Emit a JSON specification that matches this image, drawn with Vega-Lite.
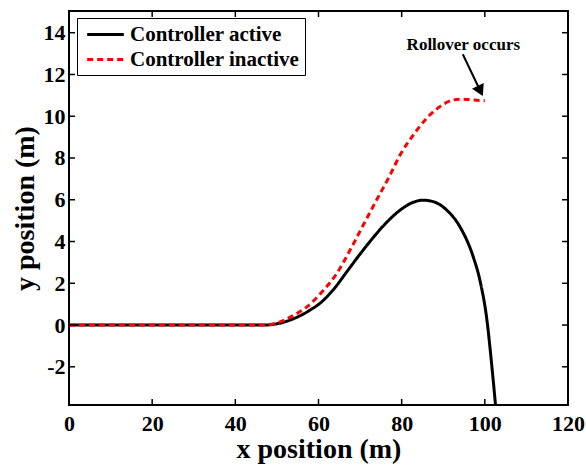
{
  "$schema": "https://vega.github.io/schema/vega-lite/v6.json",
  "width": 499,
  "height": 394,
  "autosize": {"type": "none"},
  "padding": {"left": 69, "top": 11, "right": 18, "bottom": 61},
  "background": "white",
  "datasets": {
    "paths": [
      {"series": "Controller active", "x": 0, "y": 0},
      {"series": "Controller active", "x": 47, "y": 0},
      {"series": "Controller active", "x": 50, "y": 0.06},
      {"series": "Controller active", "x": 53.2, "y": 0.24},
      {"series": "Controller active", "x": 58, "y": 0.72},
      {"series": "Controller active", "x": 60.4, "y": 1.05},
      {"series": "Controller active", "x": 63.6, "y": 1.7},
      {"series": "Controller active", "x": 66.8, "y": 2.55},
      {"series": "Controller active", "x": 70, "y": 3.4},
      {"series": "Controller active", "x": 73.2, "y": 4.2},
      {"series": "Controller active", "x": 76.4, "y": 4.92},
      {"series": "Controller active", "x": 79.6, "y": 5.5},
      {"series": "Controller active", "x": 82.8, "y": 5.88},
      {"series": "Controller active", "x": 85.1, "y": 5.98},
      {"series": "Controller active", "x": 87.6, "y": 5.91},
      {"series": "Controller active", "x": 90.8, "y": 5.51},
      {"series": "Controller active", "x": 94, "y": 4.71},
      {"series": "Controller active", "x": 97.2, "y": 3.27},
      {"series": "Controller active", "x": 98.8, "y": 2.16},
      {"series": "Controller active", "x": 100.5, "y": 0.24},
      {"series": "Controller active", "x": 101.7, "y": -2.0},
      {"series": "Controller active", "x": 102.6, "y": -3.9},
      {"series": "Controller inactive", "x": 0, "y": 0},
      {"series": "Controller inactive", "x": 47, "y": 0},
      {"series": "Controller inactive", "x": 50, "y": 0.1},
      {"series": "Controller inactive", "x": 53.2, "y": 0.38},
      {"series": "Controller inactive", "x": 57.2, "y": 0.87},
      {"series": "Controller inactive", "x": 61.2, "y": 1.67},
      {"series": "Controller inactive", "x": 64.4, "y": 2.47},
      {"series": "Controller inactive", "x": 67.6, "y": 3.59},
      {"series": "Controller inactive", "x": 70.8, "y": 4.8},
      {"series": "Controller inactive", "x": 74, "y": 6.0},
      {"series": "Controller inactive", "x": 77.2, "y": 7.18},
      {"series": "Controller inactive", "x": 79.6, "y": 8.14},
      {"series": "Controller inactive", "x": 82.8, "y": 9.1},
      {"series": "Controller inactive", "x": 86, "y": 9.9},
      {"series": "Controller inactive", "x": 89.2, "y": 10.46},
      {"series": "Controller inactive", "x": 92.4, "y": 10.78},
      {"series": "Controller inactive", "x": 94.4, "y": 10.82},
      {"series": "Controller inactive", "x": 97.2, "y": 10.78},
      {"series": "Controller inactive", "x": 100, "y": 10.74}
    ],
    "note": [{"label": "Rollover occurs", "x": 94.83, "y": 13.41}],
    "arrow": [{"x": 94.7, "y": 12.97, "x2": 98.92, "y2": 11.21}],
    "xticks": [{"v": 20}, {"v": 40}, {"v": 60}, {"v": 80}, {"v": 100}],
    "yticks": [{"v": -2}, {"v": 0}, {"v": 2}, {"v": 4}, {"v": 6}, {"v": 8}, {"v": 10}, {"v": 12}, {"v": 14}]
  },
  "layer": [
    {
      "data": {"name": "paths"},
      "mark": {"type": "line", "interpolate": "monotone", "strokeWidth": 3, "clip": true},
      "encoding": {
        "x": {
          "field": "x", "type": "quantitative",
          "scale": {"domain": [0, 120], "nice": false},
          "axis": {"orient": "bottom", "values": [0, 20, 40, 60, 80, 100, 120], "ticks": false, "labelPadding": 8, "labelFlush": false, "title": "x position (m)"}
        },
        "y": {
          "field": "y", "type": "quantitative",
          "scale": {"domain": [-3.83, 15.04], "nice": false, "zero": false},
          "axis": {"orient": "left", "values": [-2, 0, 2, 4, 6, 8, 10, 12, 14], "ticks": false, "labelPadding": 4, "labelFlush": false, "labelExpr": "'' + datum.value", "title": "y position (m)"}
        },
        "color": {
          "field": "series", "type": "nominal",
          "scale": {"domain": ["Controller active", "Controller inactive"], "range": ["#000000", "#ff0000"]},
          "legend": {
            "title": null, "orient": "none", "legendX": 8, "legendY": 7,
            "symbolType": "M-0.63,0H3.03", "symbolSize": 400, "symbolStrokeWidth": 3,
            "labelOffset": 25, "rowPadding": 3
          }
        },
        "strokeDash": {
          "field": "series", "type": "nominal",
          "scale": {"domain": ["Controller active", "Controller inactive"], "range": [[1, 0], [6, 4]]},
          "legend": {
            "title": null, "orient": "none", "legendX": 8, "legendY": 7,
            "symbolType": "M-0.63,0H3.03", "symbolSize": 400, "symbolStrokeWidth": 3,
            "labelOffset": 25, "rowPadding": 3
          }
        }
      }
    },
    {
      "data": {"name": "note"},
      "mark": {"type": "text", "font": "Liberation Serif", "fontWeight": "bold", "fontSize": 17, "color": "black", "align": "center", "baseline": "middle"},
      "encoding": {
        "x": {"field": "x", "type": "quantitative"},
        "y": {"field": "y", "type": "quantitative"},
        "text": {"field": "label"}
      }
    },
    {
      "data": {"name": "arrow"},
      "mark": {"type": "rule", "color": "black", "strokeWidth": 2},
      "encoding": {
        "x": {"field": "x", "type": "quantitative"},
        "y": {"field": "y", "type": "quantitative"},
        "x2": {"field": "x2"},
        "y2": {"field": "y2"}
      }
    },
    {
      "data": {"name": "arrow"},
      "mark": {"type": "point", "shape": "triangle-up", "filled": true, "color": "black", "size": 169, "angle": 154, "opacity": 1},
      "encoding": {
        "x": {"field": "x2", "type": "quantitative"},
        "y": {"field": "y2", "type": "quantitative"}
      }
    },
    {
      "data": {"name": "xticks"},
      "mark": {"type": "tick", "orient": "vertical", "size": 6, "thickness": 1.5, "color": "black", "opacity": 1},
      "encoding": {
        "x": {"field": "v", "type": "quantitative"},
        "y": {"datum": -3.686, "type": "quantitative"}
      }
    },
    {
      "data": {"name": "xticks"},
      "mark": {"type": "tick", "orient": "vertical", "size": 6, "thickness": 1.5, "color": "black", "opacity": 1},
      "encoding": {
        "x": {"field": "v", "type": "quantitative"},
        "y": {"datum": 14.896, "type": "quantitative"}
      }
    },
    {
      "data": {"name": "yticks"},
      "mark": {"type": "tick", "orient": "horizontal", "size": 6, "thickness": 1.5, "color": "black", "opacity": 1},
      "encoding": {
        "y": {"field": "v", "type": "quantitative"},
        "x": {"datum": 0.72, "type": "quantitative"}
      }
    },
    {
      "data": {"name": "yticks"},
      "mark": {"type": "tick", "orient": "horizontal", "size": 6, "thickness": 1.5, "color": "black", "opacity": 1},
      "encoding": {
        "y": {"field": "v", "type": "quantitative"},
        "x": {"datum": 119.28, "type": "quantitative"}
      }
    }
  ],
  "config": {
    "view": {"stroke": "black", "strokeWidth": 2},
    "font": "Liberation Serif",
    "axis": {
      "grid": false,
      "domain": false,
      "labelFont": "Liberation Serif",
      "labelFontSize": 22,
      "labelFontWeight": "bold",
      "labelColor": "black",
      "titleFont": "Liberation Serif",
      "titleFontSize": 28,
      "titleFontWeight": "bold",
      "titleColor": "black"
    },
    "axisX": {"titlePadding": 1},
    "axisY": {"titlePadding": 4},
    "legend": {
      "strokeColor": "black",
      "fillColor": "white",
      "padding": 5,
      "labelFont": "Liberation Serif",
      "labelFontSize": 21,
      "labelFontWeight": "bold",
      "labelColor": "black",
      "labelLimit": 400
    }
  }
}
